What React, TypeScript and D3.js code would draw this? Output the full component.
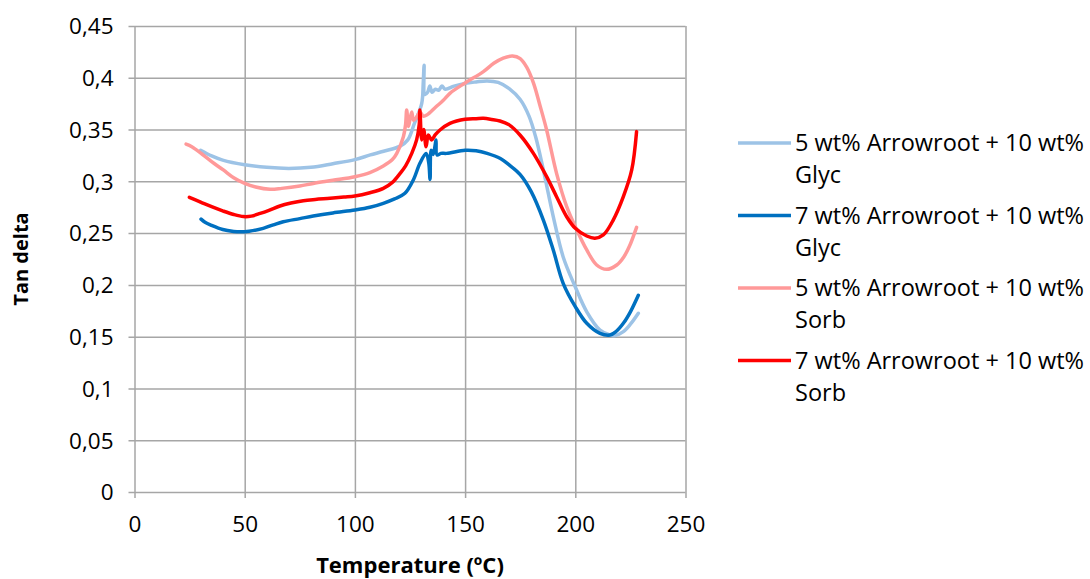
import * as d3 from 'd3'
import { useEffect, useRef } from 'react'

// [temperature ºC, tan delta]
const arrow5Glyc: [number, number][] = [
  [30, 0.33], [35, 0.3245], [40, 0.3205], [50, 0.316], [60, 0.3135], [70, 0.3125],
  [80, 0.3135], [90, 0.317], [100, 0.321], [107, 0.3255], [113, 0.329], [120.5, 0.334],
  [124, 0.34], [127, 0.356], [130.3, 0.375], [131, 0.395], [131.4, 0.412], [131.8, 0.384],
  [133, 0.386], [134, 0.392], [135, 0.386], [136.5, 0.389], [138, 0.388], [139.5, 0.392],
  [141, 0.389], [145, 0.392], [150, 0.3946], [155, 0.396], [160, 0.397], [165, 0.3955],
  [170, 0.3895], [175, 0.379], [179, 0.363], [182, 0.343], [185.5, 0.311], [190, 0.266],
  [194.5, 0.227], [200, 0.198], [205.2, 0.174], [211.2, 0.1564], [215.7, 0.1516],
  [218, 0.151], [221.8, 0.1548], [225, 0.162], [228.6, 0.1726],
]

const arrow7Glyc: [number, number][] = [
  [30.2, 0.2635], [32, 0.2605], [35, 0.2575], [40, 0.2535], [45, 0.2516], [48, 0.2512],
  [52, 0.2518], [58.4, 0.2546], [63, 0.258], [67.5, 0.261], [75, 0.264], [81.1, 0.2665],
  [90, 0.2695], [100, 0.2723], [106.8, 0.2749], [112.9, 0.2788], [118, 0.283], [122.7, 0.2884],
  [126.5, 0.3013], [129.5, 0.3174], [132.3, 0.327], [133.5, 0.318], [134.1, 0.302],
  [134.6, 0.33], [135.5, 0.326], [136.4, 0.335], [136.8, 0.34], [137.3, 0.3254],
  [139, 0.327], [141.6, 0.327], [150, 0.33], [155, 0.3295], [160, 0.327], [166, 0.322],
  [170, 0.3158], [175, 0.3065], [180, 0.29], [185.5, 0.2626], [190, 0.2337],
  [194.5, 0.2015], [200, 0.179], [205.2, 0.1629], [211.2, 0.1532], [215.7, 0.1516],
  [218.5, 0.155], [221.8, 0.1629], [225, 0.174], [228.6, 0.19],
]

const arrow5Sorb: [number, number][] = [
  [23.4, 0.336], [26, 0.3335], [31.2, 0.3254], [35, 0.319], [40.3, 0.311], [45, 0.3035],
  [50, 0.298], [55, 0.2945], [61.5, 0.2923], [66.8, 0.2932], [75, 0.2955], [81.1, 0.298],
  [90, 0.301], [100, 0.3045], [106.8, 0.3084], [112.9, 0.3148], [117, 0.321], [119, 0.327],
  [122, 0.343], [123, 0.355], [123.5, 0.369], [124.3, 0.353], [125, 0.36], [125.8, 0.367],
  [126.6, 0.359], [128, 0.362], [129.5, 0.367], [131, 0.363], [132.6, 0.364],
  [136.8, 0.372], [140, 0.378], [143.1, 0.385], [150, 0.395], [158.3, 0.406], [163, 0.414],
  [167.3, 0.419], [171.5, 0.421], [175, 0.4185], [178, 0.41], [181, 0.395],
  [184, 0.373], [187, 0.3496], [191.5, 0.3077], [196.1, 0.2755], [200, 0.2562],
  [205.2, 0.2337], [209.7, 0.2192], [214.2, 0.215], [218.8, 0.2192], [222, 0.227],
  [224.5, 0.237], [227.8, 0.2556],
]

const arrow7Sorb: [number, number][] = [
  [24.9, 0.2846], [30, 0.28], [35, 0.2755], [40, 0.2715], [45, 0.268], [49.4, 0.266],
  [53, 0.2664], [57, 0.269], [61, 0.272], [66, 0.2762], [71, 0.279], [76.6, 0.2813],
  [82, 0.2825], [88.7, 0.2836], [95, 0.2848], [100, 0.2858], [106.8, 0.289], [112.9, 0.2932],
  [117, 0.299], [120.5, 0.3077], [123, 0.315], [125.8, 0.327], [128, 0.34], [129.2, 0.355],
  [129.5, 0.369], [130.3, 0.34], [131.2, 0.35], [132.3, 0.3335], [133.3, 0.3447],
  [134.8, 0.34], [136.5, 0.345], [138.6, 0.3496], [143.1, 0.356], [150, 0.36], [155, 0.3605],
  [158.3, 0.3608], [162, 0.3598], [165.8, 0.3583], [170, 0.3545], [175, 0.3445],
  [181, 0.327], [187, 0.3045], [191.5, 0.2852], [196.1, 0.2658],
  [200, 0.2546], [205.2, 0.2472], [208.9, 0.245], [212.7, 0.2482], [217.2, 0.2626],
  [221.8, 0.2852], [225.6, 0.311], [227.8, 0.348],
]

const seriesNames = [
  ['5 wt% Arrowroot + 10 wt%', 'Glyc'],
  ['7 wt% Arrowroot + 10 wt%', 'Glyc'],
  ['5 wt% Arrowroot + 10 wt%', 'Sorb'],
  ['7 wt% Arrowroot + 10 wt%', 'Sorb'],
]
const seriesColors = ['#9DC3E6', '#0070C0', '#FF9999', '#FF0000']
const seriesData = [arrow5Glyc, arrow7Glyc, arrow5Sorb, arrow7Sorb]

const xTicks = [0, 50, 100, 150, 200, 250]
const yTicks = [0, 0.05, 0.1, 0.15, 0.2, 0.25, 0.3, 0.35, 0.4, 0.45]

const App = () => {
  const ref = useRef<HTMLDivElement>(null)

  useEffect(() => {
    if (!ref.current) return
    const width = 1090
    const height = 579
    const font = '"Open Sans", sans-serif'
    const grid = '#A6A6A6'

    d3.select(ref.current).select('svg').remove()
    const svg = d3
      .select(ref.current)
      .append('svg')
      .attr('width', width)
      .attr('height', height)
      .style('display', 'block')
      .style('font-family', font)

    const x = d3.scaleLinear().domain([0, 250]).range([134.5, 685.5])
    const y = d3.scaleLinear().domain([0, 0.45]).range([492, 26])

    // Y grid + axis
    svg
      .append('g')
      .attr('transform', `translate(${x(0)},0)`)
      .call(
        d3
          .axisLeft(y)
          .tickValues(yTicks)
          .tickSize(-(x(250) - x(0)))
          .tickFormat((d) => String(d).replace('.', ','))
      )
      .call((g) => g.select('.domain').remove())
      .call((g) => g.selectAll('.tick line').attr('stroke', grid).attr('stroke-width', 1.5).attr('x1', -6))
      .call((g) =>
        g.selectAll('.tick text').attr('x', -21).attr('dy', '0.35em').attr('fill', '#000').style('font-size', '22.5px').style('font-family', font)
      )

    // X grid + axis
    svg
      .append('g')
      .attr('transform', `translate(0,${y(0)})`)
      .call(
        d3
          .axisBottom(x)
          .tickValues(xTicks)
          .tickSize(-(y(0) - y(0.45)))
          .tickFormat((d) => `${d}`)
      )
      .call((g) => g.select('.domain').remove())
      .call((g) => g.selectAll('.tick line').attr('stroke', grid).attr('stroke-width', 1.5).attr('y1', 6))
      .call((g) =>
        g.selectAll('.tick text').attr('y', 24).attr('dy', '0.71em').attr('fill', '#000').style('font-size', '22.5px').style('font-family', font)
      )

    const line = d3
      .line<[number, number]>()
      .x((d) => x(d[0]))
      .y((d) => y(d[1]))
      .curve(d3.curveCatmullRom.alpha(0.5))

    seriesData.forEach((data, i) => {
      svg
        .append('path')
        .datum(data)
        .attr('d', line)
        .attr('fill', 'none')
        .attr('stroke', seriesColors[i])
        .attr('stroke-width', 3.5)
        .attr('stroke-linejoin', 'round')
        .attr('stroke-linecap', 'round')
    })

    // Legend
    const legend = svg.append('g')
    seriesNames.forEach((lines, i) => {
      const ly = 143 + i * 72.5
      legend
        .append('line')
        .attr('x1', 738)
        .attr('x2', 791)
        .attr('y1', ly)
        .attr('y2', ly)
        .attr('stroke', seriesColors[i])
        .attr('stroke-width', 3.5)
      lines.forEach((t, j) => {
        legend
          .append('text')
          .attr('x', 795)
          .attr('y', ly + j * 32)
          .attr('dy', '0.35em')
          .style('font-size', '23.5px')
          .text(t)
      })
    })

    // Axis titles
    svg
      .append('text')
      .attr('transform', `translate(28,${(y(0) + y(0.45)) / 2}) rotate(-90)`)
      .attr('text-anchor', 'middle')
      .style('font-size', '20px')
      .style('font-weight', 'bold')
      .text('Tan delta')

    svg
      .append('text')
      .attr('x', (x(0) + x(250)) / 2)
      .attr('y', 573)
      .attr('text-anchor', 'middle')
      .style('font-size', '22px')
      .style('font-weight', 'bold')
      .text('Temperature (ºC)')
  }, [])

  return <div ref={ref} style={{ position: 'absolute', left: 0, top: 0 }} />
}

export default App
